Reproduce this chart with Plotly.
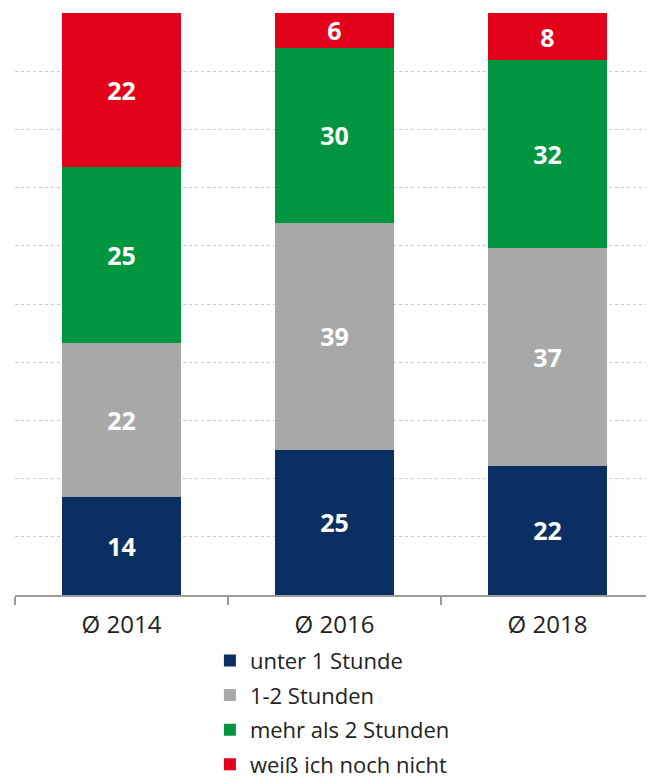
import plotly.graph_objects as go

categories = ["Ø 2014", "Ø 2016", "Ø 2018"]
series_names = ["unter 1 Stunde", "1-2 Stunden", "mehr als 2 Stunden", "weiß ich noch nicht"]
unter_1 = [14, 25, 22]
stunden_1_2 = [22, 39, 37]
mehr_als_2 = [25, 30, 32]
weiss_nicht = [22, 6, 8]
colors = ["#0b2f62", "#a8a8a8", "#00963f", "#e2001a"]

FONT = "Open Sans"

fig = go.Figure()
for i, (name, vals) in enumerate(zip(series_names, [unter_1, stunden_1_2, mehr_als_2, weiss_nicht])):
    fig.add_trace(go.Bar(
        x=categories, y=vals, name=name, legendgroup=f"g{i}",
        marker=dict(color=colors[i], line=dict(width=0)),
        text=vals, texttemplate="%{text}", textposition="inside",
        insidetextanchor="middle", textangle=0,
        textfont=dict(family=FONT, size=25, color="white", weight="bold"),
    ))

fig.update_layout(
    width=646, height=776,
    barmode="stack", barnorm="percent", bargap=0.4375,
    margin=dict(l=7, r=0, t=5, b=189),
    plot_bgcolor="white", paper_bgcolor="white",
    font=dict(family=FONT, color="#222222"),
    uniformtext=dict(mode="show", minsize=25),
    showlegend=True,
    legend=dict(
        x=0.305, xanchor="left", xref="paper",
        y=0.186, yanchor="top", yref="container",
        orientation="v", traceorder="grouped", tracegroupgap=3,
        font=dict(family=FONT, size=22, color="#222222"),
        itemwidth=30,
    ),
    xaxis=dict(
        showline=True, linecolor="#9a9a9a", linewidth=1.5,
        ticks="outside", tickson="boundaries", ticklen=8, tickcolor="#9a9a9a", tickwidth=1.5,
        tickfont=dict(family=FONT, size=24, color="#222222"),
        ticklabelstandoff=7,
        showgrid=False,
    ),
    yaxis=dict(
        range=[0, 100], dtick=10, showticklabels=False,
        showgrid=True, gridcolor="#cccccc", griddash="dot", gridwidth=1,
        zeroline=False, showline=False,
    ),
)

fig.write_html("out.html")
